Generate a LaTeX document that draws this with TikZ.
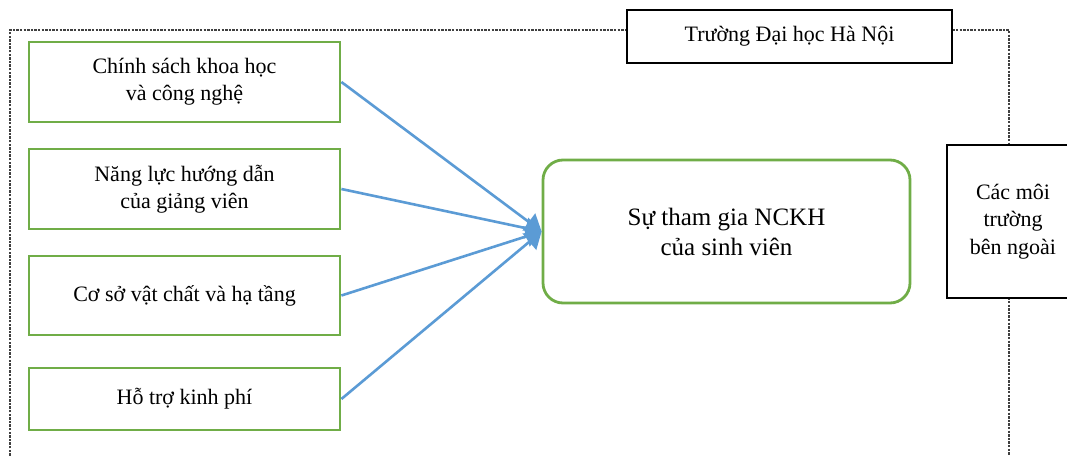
\documentclass[tikz,border=0pt]{standalone}
\usepackage{fontspec}
\setmainfont{Liberation Serif}
\usetikzlibrary{arrows.meta}
\definecolor{boxgreen}{HTML}{70AD47}
\definecolor{arrblue}{HTML}{5B9BD5}
\definecolor{dashgray}{HTML}{404040}
\tikzset{
  factor/.style={draw=boxgreen, line width=2.8pt, fill=white, minimum width=311pt, inner sep=0pt, align=center, font=\fontsize{22}{27}\selectfont},
  outcome/.style={draw=boxgreen, line width=2.8pt, fill=white, rounded corners=20pt, minimum width=367pt, minimum height=143pt, inner sep=0pt, align=center, font=\fontsize{25}{30}\selectfont},
  blackbox/.style={draw=black, line width=2.4pt, fill=white, inner sep=0pt, align=center, font=\fontsize{22}{27.5}\selectfont},
  link/.style={draw=arrblue, line width=2.6pt, -{Triangle[length=16pt,width=21pt]}},
  border/.style={draw=dashgray, line width=1.2pt, dash pattern=on 2.4pt off 1.2pt}
}
\begin{document}
\begin{tikzpicture}[x=1pt,y=-1pt]
\useasboundingbox (0,0) rectangle (1067,455);
\clip (0,0) rectangle (1067,455);
\fill[white] (0,0) rectangle (1067,455);
\draw[border] (10,470) -- (10,30) -- (1009,30) -- (1009,470);
\node[blackbox, minimum width=325pt, minimum height=53pt] (title) at (789.5,36.5) {Trường Đại học Hà Nội};
\node[blackbox, minimum width=132pt, minimum height=153pt] (env) at (1013,221.5) {Các môi\\trường\\bên ngoài};
\node[factor, minimum height=80pt] (f1) at (184.5,82) {Chính sách khoa học\\và công nghệ};
\node[factor, minimum height=80pt] (f2) at (184.5,189) {Năng lực hướng dẫn\\của giảng viên};
\node[factor, minimum height=79pt] (f3) at (184.5,295.5) {Cơ sở vật chất và hạ tầng};
\node[factor, minimum height=62pt] (f4) at (184.5,399) {Hỗ trợ kinh phí};
\node[outcome] (c) at (726.5,231.5) {Sự tham gia NCKH\\của sinh viên};
\foreach \f in {f1,f2,f3,f4} \draw[link] (\f.east) -- (c.west);
\end{tikzpicture}
\end{document}
